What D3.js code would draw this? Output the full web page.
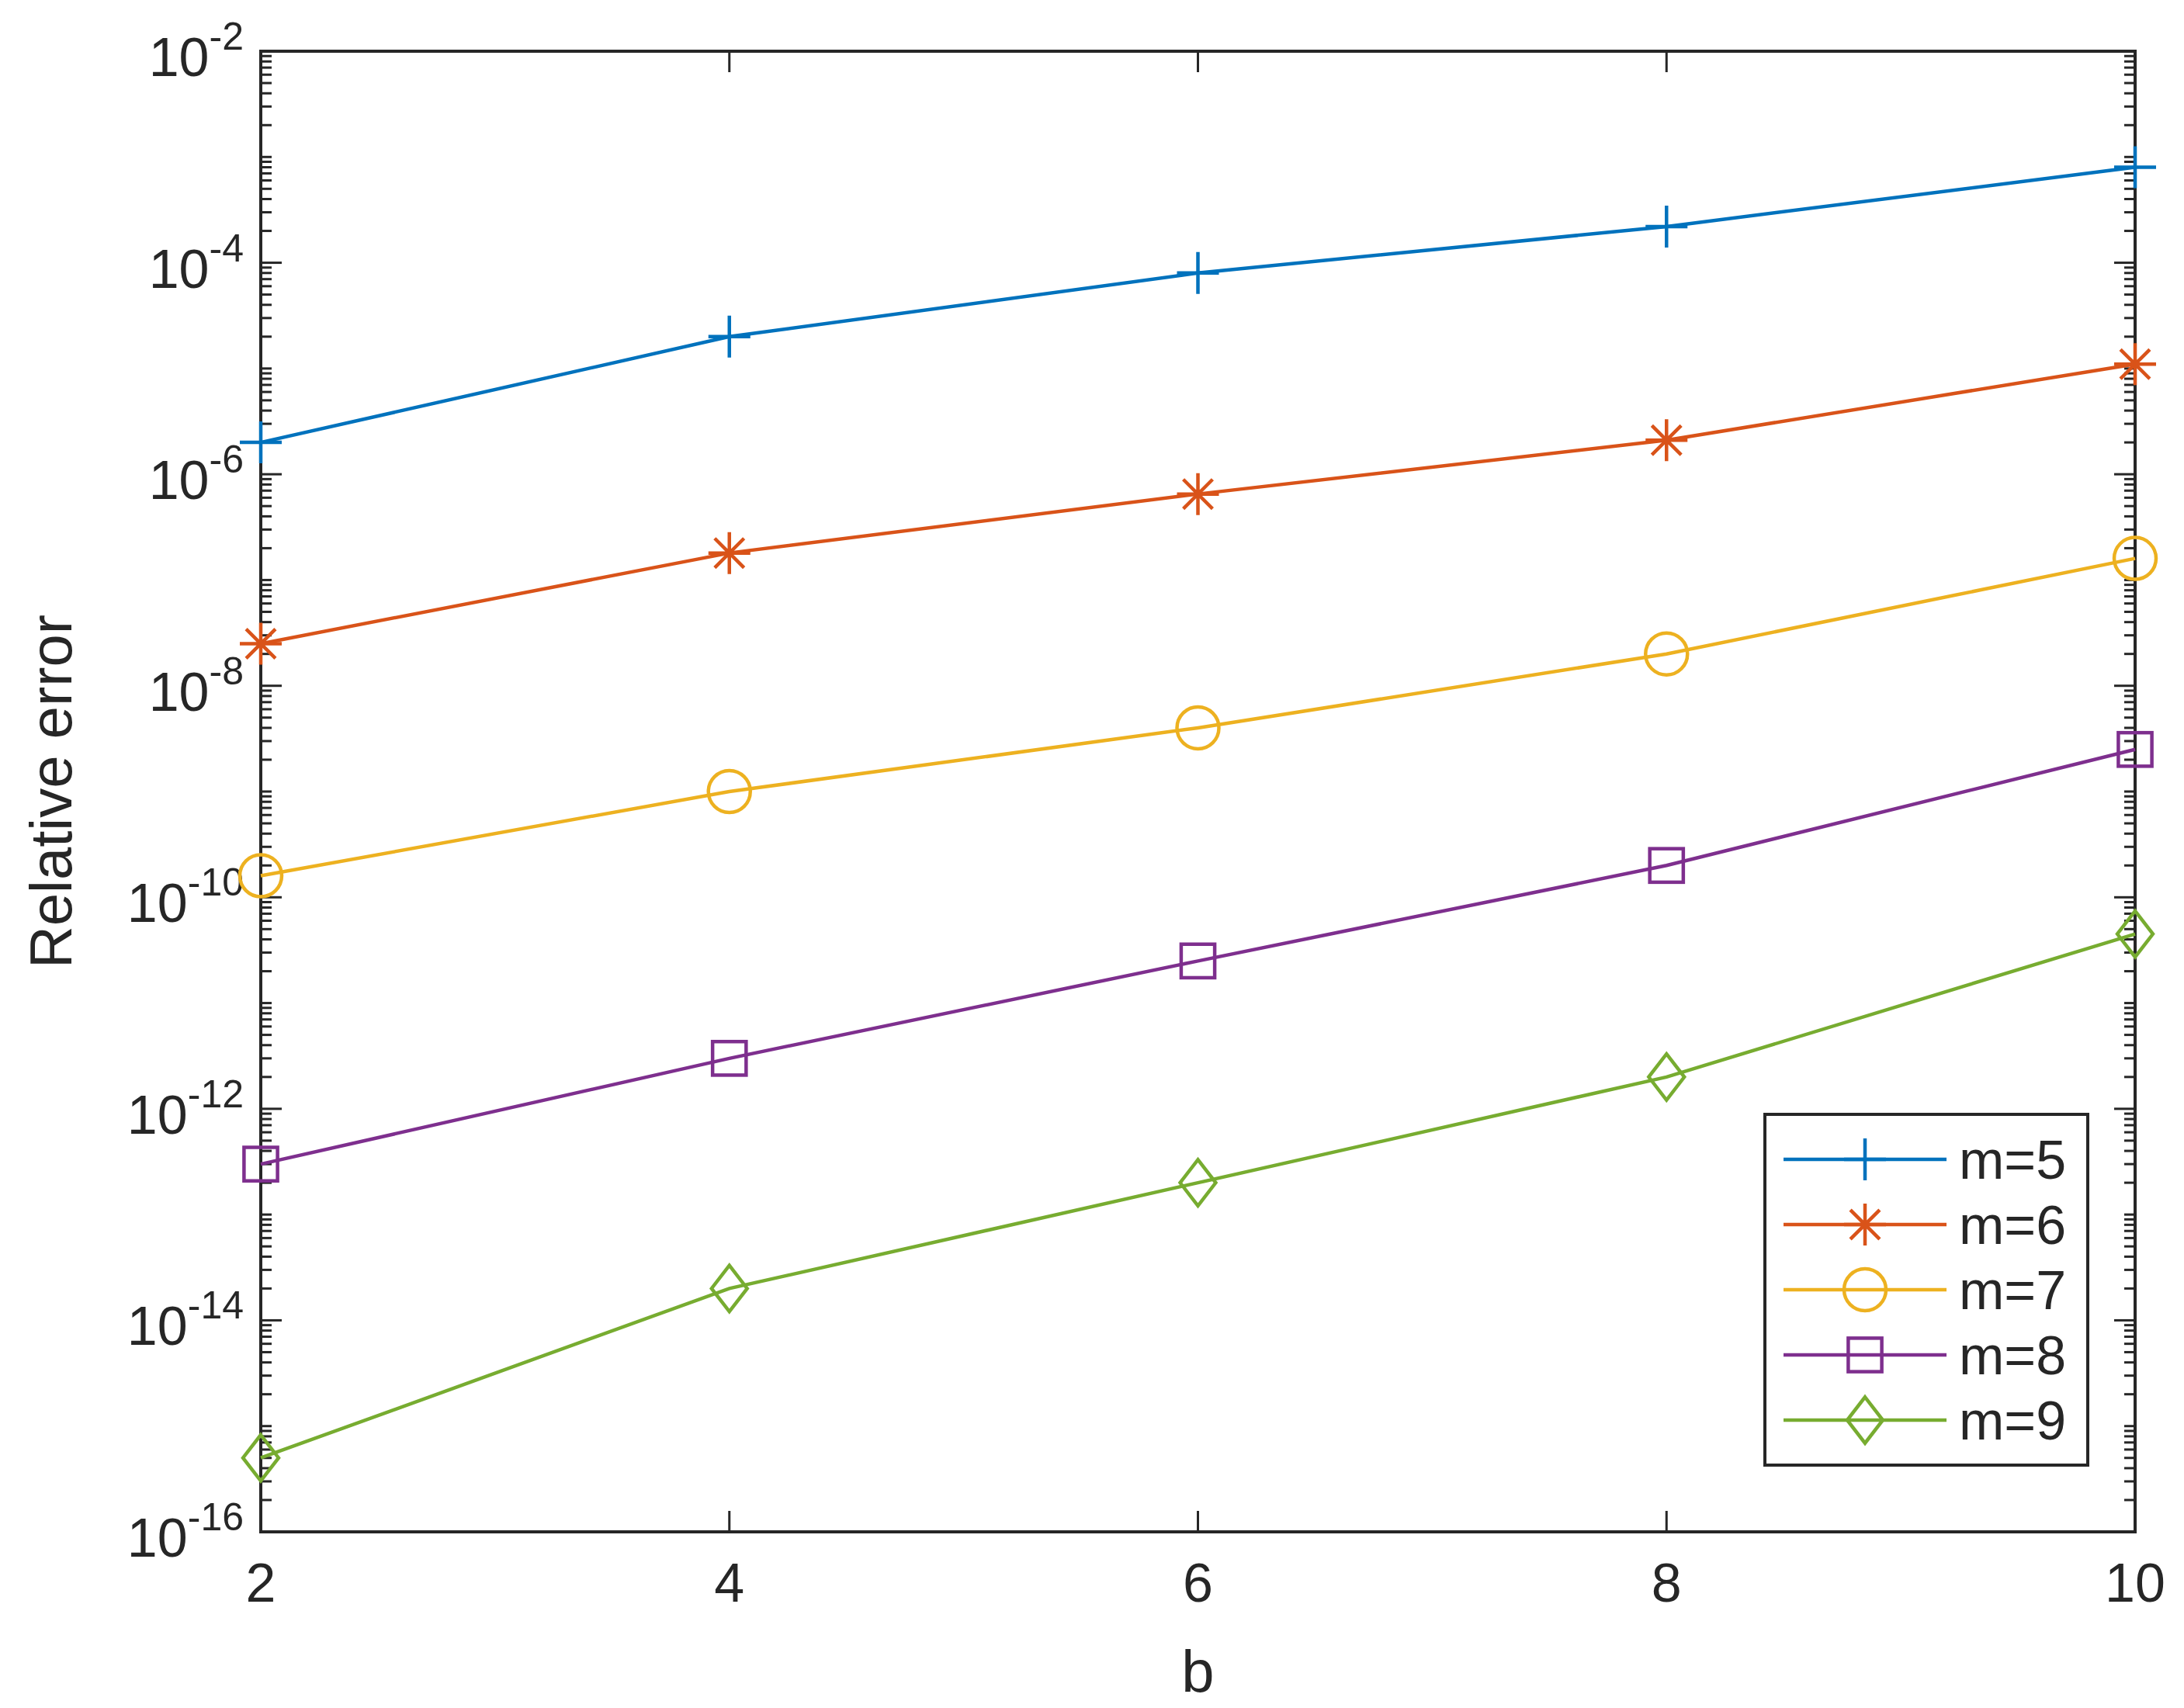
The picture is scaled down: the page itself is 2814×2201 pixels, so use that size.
<!DOCTYPE html>
<html><head><meta charset="utf-8">
<script src="https://cdn.jsdelivr.net/npm/d3@7"></script>
<style>body{margin:0;background:#fff}svg text{font-family:"Liberation Sans",Arial,sans-serif;fill:#262626}</style>
</head><body>
<svg id="c" width="2814" height="2201"></svg>
<script>
// data
const bValues = [2, 4, 6, 8, 10];
const seriesNames = ['m=5', 'm=6', 'm=7', 'm=8', 'm=9'];
const m5 = [2e-6, 2e-5, 8e-5, 2.2e-4, 8e-4];
const m6 = [2.5e-8, 1.8e-7, 6.5e-7, 2.1e-6, 1.1e-5];
const m7 = [1.6e-10, 1e-9, 4e-9, 2e-8, 1.6e-7];
const m8 = [3e-13, 3e-12, 2.5e-11, 2e-10, 2.5e-9];
const m9 = [5e-16, 2e-14, 2e-13, 2e-12, 4.5e-11];
const yTickExps = [-16, -14, -12, -10, -8, -6, -4, -2];
const colors = ['#0072BD', '#D95319', '#EDB120', '#7E2F8E', '#77AC30'];
const markers = ['plus', 'star', 'circle', 'square', 'diamond'];
const series = [m5, m6, m7, m8, m9];

const L = 336, R = 2751, T = 66, B = 1974;
const svg = d3.select('#c');
const x = d3.scaleLinear().domain([2, 10]).range([L, R]);
const y = d3.scaleLog().domain([1e-16, 1e-2]).range([B, T]);

// axes box
svg.append('rect').attr('x', L).attr('y', T).attr('width', R - L).attr('height', B - T)
  .attr('fill', 'none').attr('stroke', '#262626').attr('stroke-width', 4);

const tk = svg.append('g').attr('stroke', '#262626').attr('stroke-width', 3);
bValues.forEach(v => {
  tk.append('line').attr('x1', x(v)).attr('x2', x(v)).attr('y1', B).attr('y2', B - 27);
  tk.append('line').attr('x1', x(v)).attr('x2', x(v)).attr('y1', T).attr('y2', T + 27);
  svg.append('text').attr('x', x(v)).attr('y', B + 90).attr('text-anchor', 'middle')
    .attr('font-size', 70).text(v);
});
for (let e = -16; e < -2; e++) {
  for (let k = 1; k < 10; k++) {
    const v = k * Math.pow(10, e);
    const len = (k === 1 && e % 2 === 0) ? 27 : 14;
    tk.append('line').attr('x1', L).attr('x2', L + len).attr('y1', y(v)).attr('y2', y(v));
    tk.append('line').attr('x1', R).attr('x2', R - len).attr('y1', y(v)).attr('y2', y(v));
  }
}
yTickExps.forEach(e => {
  const t = svg.append('text').attr('x', L - 22).attr('y', y(Math.pow(10, e)) + 32)
    .attr('text-anchor', 'end').attr('font-size', 70);
  t.append('tspan').text('10');
  t.append('tspan').attr('dy', -34).attr('font-size', 50).text(e);
});

svg.append('text').attr('x', (L + R) / 2).attr('y', 2180).attr('text-anchor', 'middle')
  .attr('font-size', 76).text('b');
svg.append('text').attr('transform', `translate(92,${(T + B) / 2}) rotate(-90)`)
  .attr('text-anchor', 'middle').attr('font-size', 76).text('Relative error');

function marker(g, type, cx, cy, col, s) {
  if (type === 'plus') {
    g.append('path').attr('d', `M${cx - s},${cy}H${cx + s}M${cx},${cy - s}V${cy + s}`);
  } else if (type === 'star') {
    const a = s * 0.7;
    g.append('path').attr('d', `M${cx - s},${cy}H${cx + s}M${cx},${cy - s}V${cy + s}M${cx - a},${cy - a}L${cx + a},${cy + a}M${cx - a},${cy + a}L${cx + a},${cy - a}`);
  } else if (type === 'circle') {
    g.append('circle').attr('cx', cx).attr('cy', cy).attr('r', s).attr('fill', 'none');
  } else if (type === 'square') {
    const a = s * 0.8;
    g.append('rect').attr('x', cx - a).attr('y', cy - a).attr('width', 2 * a).attr('height', 2 * a).attr('fill', 'none');
  } else {
    g.append('path').attr('d', `M${cx},${cy - s * 1.1}L${cx + s * 0.85},${cy}L${cx},${cy + s * 1.1}L${cx - s * 0.85},${cy}Z`).attr('fill', 'none');
  }
}

const line = d3.line().x((d, i) => x(bValues[i])).y(d => y(d));
series.forEach((s, si) => {
  const g = svg.append('g').attr('stroke', colors[si]).attr('stroke-width', 4.5).attr('fill', 'none');
  g.append('path').datum(s).attr('d', line);
  s.forEach((v, i) => marker(g, markers[si], x(bValues[i]), y(v), colors[si], 27));
});

// legend
const lx = 2274, ly = 1436, lw = 416, lh = 452;
svg.append('rect').attr('x', lx).attr('y', ly).attr('width', lw).attr('height', lh)
  .attr('fill', '#fff').attr('stroke', '#262626').attr('stroke-width', 4);
seriesNames.forEach((n, i) => {
  const cy = ly + 58 + i * 84;
  const g = svg.append('g').attr('stroke', colors[i]).attr('stroke-width', 4.5).attr('fill', 'none');
  g.append('line').attr('x1', lx + 24).attr('x2', lx + 234).attr('y1', cy).attr('y2', cy);
  marker(g, markers[i], lx + 129, cy, colors[i], 27);
  svg.append('text').attr('x', lx + 250).attr('y', cy + 25).attr('font-size', 70).text(n);
});
</script>
</body></html>
